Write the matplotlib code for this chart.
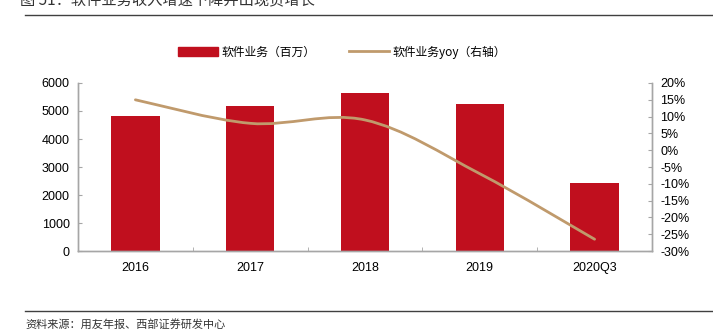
import numpy as np
import matplotlib
matplotlib.use("Agg")
import matplotlib.pyplot as plt
from matplotlib.path import Path
from matplotlib.patches import PathPatch, Rectangle
from matplotlib.lines import Line2D
from matplotlib.ticker import FuncFormatter

plt.rcParams['font.family'] = ['Liberation Sans', 'Noto Sans CJK SC', 'DejaVu Sans']

# software revenue (million CNY) and its yoy growth (%)
years = ['2016', '2017', '2018', '2019', '2020Q3']
revenue = [4820, 5190, 5630, 5260, 2440]
yoy = [15.0, 8.0, 9.0, -7.0, -26.5]

RED = '#C00F1E'
TAN = '#C09A6C'
GRAY = '#A6A6A6'
CJK = ['Noto Sans CJK SC', 'DejaVu Sans']

fig = plt.figure(figsize=(7.13, 3.30), dpi=100)
fig.subplots_adjust(left=78 / 713, right=652 / 713, bottom=1 - 251 / 330, top=1 - 83 / 330)
ax = fig.add_subplot(111)
ax2 = ax.twinx()

x = np.arange(len(years))
ax.bar(x, revenue, width=0.42, color=RED, zorder=2)
ax.set_xlim(-0.5, len(years) - 0.5)
ax.set_ylim(0, 6000)
ax.set_yticks(range(0, 6001, 1000))
ax.set_xticks(x)
ax.set_xticklabels(years)
ax.set_xticks(np.arange(-0.5, len(years), 1), minor=True)
ax.tick_params(axis='x', which='major', length=0, pad=8, labelsize=9)
ax.tick_params(axis='x', which='minor', length=3, direction='in', color=GRAY)
ax.tick_params(axis='y', length=3, direction='in', color=GRAY, labelsize=9, pad=6)

ax2.set_ylim(-30, 20)
ax2.set_yticks(range(-30, 21, 5))
ax2.yaxis.set_major_formatter(FuncFormatter(lambda v, p: f'{v:.0f}%'))
ax2.tick_params(axis='y', length=3, direction='in', color=GRAY, labelsize=9, pad=6)

for a in (ax, ax2):
    a.spines['top'].set_visible(False)
    for s in ('left', 'right', 'bottom'):
        a.spines[s].set_color(GRAY)
        a.spines[s].set_linewidth(1.0)

# smoothed yoy curve (Catmull-Rom through the points, drawn in screen space)
pts = ax2.transData.transform(np.column_stack([x, yoy]))
ext = np.vstack([pts[0], pts, pts[-1]])
verts = [pts[0]]
codes = [Path.MOVETO]
for i in range(len(pts) - 1):
    p0, p1, p2, p3 = ext[i], ext[i + 1], ext[i + 2], ext[i + 3]
    c1 = p1 + (p2 - p0) / 6
    c2 = p2 - (p3 - p1) / 6
    verts += [c1, c2, p2]
    codes += [Path.CURVE4] * 3
curve = PathPatch(Path(verts, codes), facecolor='none', edgecolor=TAN,
                  linewidth=2.0, transform=None, capstyle='round', zorder=3)
ax2.add_patch(curve)

handles = [Rectangle((0, 0), 1, 1, color=RED), Line2D([], [], color=TAN, lw=2.0)]
fig.legend(handles, ['软件业务（百万）', '软件业务yoy（右轴）'], ncol=2, frameon=False,
           loc='center', bbox_to_anchor=(342 / 713, 1 - 52 / 330),
           prop={'family': CJK, 'size': 8.5}, handlelength=3.4, handleheight=0.9,
           handletextpad=0.3, columnspacing=2.8)

# header / footer rules and texts
fig.add_artist(Line2D([25 / 713, 1], [1 - 15 / 330] * 2, color='#404040', lw=1.0))
fig.add_artist(Line2D([25 / 713, 1], [1 - 311 / 330] * 2, color='#404040', lw=1.0))
fig.text(20 / 713, 1.0, '图 51：软件业务收入增速下降并出现负增长', family=CJK, size=11,
         va='center', ha='left', color='#333333')
fig.text(25 / 713, 1 - 324 / 330, '资料来源：用友年报、西部证券研发中心', family=CJK, size=8,
         va='center', ha='left', color='#333333')

fig.savefig('out.png', dpi=100)
